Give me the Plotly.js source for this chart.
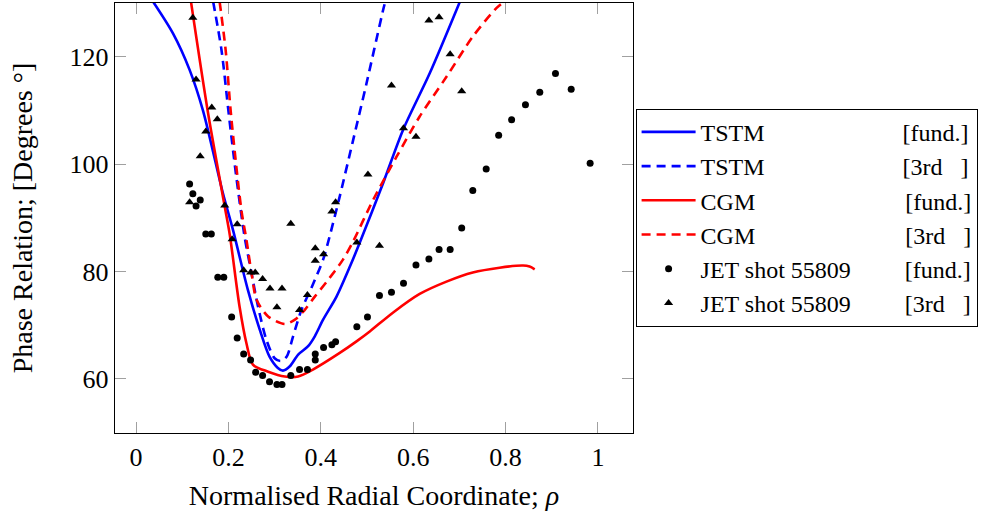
<!DOCTYPE html>
<html>
<head>
<meta charset="utf-8">
<script src="https://cdn.plot.ly/plotly-3.0.1.min.js"></script>
<style>html,body{margin:0;padding:0;background:#fff;}#chart{width:988px;height:512px;}</style>
</head>
<body>
<div id="chart"></div>
<script>
// ---- Data ----
const tstmFundRho = [0.037,0.080,0.116,0.145,0.188,0.210,0.242,0.268,0.289,0.307,0.318,0.333,0.351,0.372,0.387,0.405,0.434,0.463,0.484,0.535,0.578,0.636,0.701];
const tstmFundPhase = [130.3,124.4,117.6,110.0,94.6,87.7,76.6,69.1,64.1,62.0,61.5,62.3,64.5,66.0,67.9,71.0,75.3,80.9,85.3,96.5,106.4,117.0,130.3];

const tstm3rdRho = [0.167,0.185,0.201,0.217,0.235,0.250,0.264,0.282,0.300,0.313,0.326,0.340,0.358,0.381,0.405,0.419,0.441,0.470,0.499,0.535,0.540];
const tstm3rdPhase = [130.3,121.3,109.2,97.7,86.5,79.7,73.5,67.3,63.8,63.3,64.1,67.9,72.8,77.2,82.2,86.5,94.0,104.5,115.1,128.8,130.5];

const cgmFundRho = [0.119,0.156,0.192,0.203,0.224,0.239,0.253,0.286,0.322,0.351,0.383,0.441,0.478,0.506,0.556,0.614,0.672,0.729,0.787,0.838,0.852,0.863];
const cgmFundPhase = [130.3,109.5,92.1,86.8,73.5,66.6,62.6,61.3,60.4,60.4,61.7,64.8,67.0,68.8,72.3,75.8,78.1,79.8,80.7,81.1,80.9,80.4];

const cgm3rdRho = [0.181,0.194,0.206,0.228,0.239,0.250,0.261,0.286,0.322,0.344,0.365,0.387,0.412,0.448,0.470,0.513,0.564,0.614,0.672,0.729,0.780,0.800];
const cgm3rdPhase = [130.3,121.3,108.9,91.5,85.9,79.7,74.7,71.6,70.2,71.0,72.8,75.3,78.0,82.2,85.6,93.3,101.4,108.9,116.3,123.8,129.1,130.5];

const jetFundRho = [0.116,0.123,0.130,0.139,0.151,0.163,0.177,0.190,0.207,0.219,0.233,0.248,0.259,0.274,0.289,0.305,0.316,0.335,0.354,0.371,0.388,0.388,0.406,0.424,0.432,0.478,0.501,0.527,0.553,0.579,0.606,0.634,0.656,0.680,0.705,0.729,0.758,0.785,0.813,0.843,0.874,0.908,0.942,0.983];
const jetFundPhase = [96.3,94.5,92.2,93.3,87.0,87.0,78.9,78.9,71.5,67.6,64.6,63.5,61.2,60.6,59.4,58.9,58.9,60.6,61.7,61.7,63.5,64.6,65.8,66.3,66.9,69.7,71.5,75.5,76.1,77.8,81.2,82.3,84.1,84.1,88.1,95.1,99.1,105.4,108.3,111.1,113.4,116.9,114.0,100.2];

const jet3rdRho = [0.116,0.123,0.130,0.139,0.151,0.164,0.176,0.192,0.208,0.219,0.233,0.248,0.258,0.274,0.290,0.305,0.316,0.335,0.354,0.371,0.388,0.388,0.406,0.424,0.432,0.478,0.502,0.527,0.553,0.579,0.606,0.634,0.656,0.680,0.705];
const jet3rdPhase = [92.9,127.3,115.8,101.5,106.1,110.6,108.4,92.3,86.0,88.8,80.2,79.8,79.8,78.6,76.8,73.3,76.8,88.9,72.8,75.6,82.0,84.3,83.2,91.2,92.9,85.4,98.1,84.8,114.7,106.7,105.1,126.8,127.4,120.5,113.6];

const xTickVals = [0,0.2,0.4,0.6,0.8,1];
const xTickText = ['0','0.2','0.4','0.6','0.8','1'];
const yTickVals = [60,80,100,120];
const yTickText = ['60','80','100','120'];

const seriesNames = ['TSTM','TSTM','CGM','CGM','JET shot 55809','JET shot 55809'];
const harmonic = ['fund.','3rd','fund.','3rd','fund.','3rd'];

// ---- Legend label alignment (pad with non-breaking spaces) ----
const FONT = 'Liberation Serif';
const FS_TICK = 26, FS_TITLE = 28, FS_LEG = 24;
const cvs = document.createElement('canvas');
const ctx = cvs.getContext('2d');
ctx.font = FS_LEG + 'px "Liberation Serif"';
const w = s => ctx.measureText(s).width;
const NB = '\u00A0';
const nbW = w(NB) || FS_LEG*0.25;
const fundTag = '[fund.]';
function tag(h){
  if (h === 'fund.') return fundTag;
  const k = Math.max(1, Math.round((w(fundTag) - w('[3rd]')) / nbW));
  return '[3rd' + NB.repeat(k) + ']';
}
const natural = Math.max(...seriesNames.map((s,i)=> w(s) + nbW + w(tag(harmonic[i]))));
const target = Math.max(natural, 268);
const labels = seriesNames.map((s,i)=>{
  const t = tag(harmonic[i]);
  const k = Math.max(1, Math.round((target - w(s) - w(t)) / nbW));
  return s + NB.repeat(k) + t;
});

const traces = [
  {x: tstmFundRho, y: tstmFundPhase, mode:'lines', name: labels[0], line:{color:'#0000ff', width:2.6, shape:'spline', smoothing:0.8}},
  {x: tstm3rdRho, y: tstm3rdPhase, mode:'lines', name: labels[1], line:{color:'#0000ff', width:2.6, dash:'9px,6px', shape:'spline', smoothing:0.8}},
  {x: cgmFundRho, y: cgmFundPhase, mode:'lines', name: labels[2], line:{color:'#ff0000', width:2.6, shape:'spline', smoothing:0.8}},
  {x: cgm3rdRho, y: cgm3rdPhase, mode:'lines', name: labels[3], line:{color:'#ff0000', width:2.6, dash:'9px,6px', shape:'spline', smoothing:0.8}},
  {x: jetFundRho, y: jetFundPhase, mode:'markers', name: labels[4], marker:{symbol:'circle', color:'#000', size:7}},
  {x: jet3rdRho, y: jet3rdPhase, mode:'markers', name: labels[5], marker:{symbol:'triangle-up', color:'#000', size:8}}
];

const axisCommon = {
  showline:true, linecolor:'#000', linewidth:1.3, mirror:'ticks',
  ticks:'inside', ticklen:11, tickcolor:'#a0a0a0', tickwidth:1,
  showgrid:false, zeroline:false,
  tickfont:{family:FONT, size:FS_TICK, color:'#000'}
};

const layout = {
  width:988, height:512,
  margin:{l:115, r:355, t:3, b:79},
  paper_bgcolor:'#fff', plot_bgcolor:'#fff',
  font:{family:FONT, size:FS_TICK, color:'#000'},
  xaxis: Object.assign({}, axisCommon, {
    range:[-0.0455, 1.0758], tickvals:xTickVals, ticktext:xTickText,
    title:{text:'Normalised Radial Coordinate; <i>ρ</i>', font:{family:FONT, size:FS_TITLE, color:'#000'}, standoff:15}
  }),
  yaxis: Object.assign({}, axisCommon, {
    range:[49.86, 130.07], tickvals:yTickVals, ticktext:yTickText,
    title:{text:'Phase Relation; [Degrees °]', font:{family:FONT, size:FS_TITLE, color:'#000'}, standoff:28}
  }),
  showlegend:true,
  legend:{
    x:1.005, y:0.754, xanchor:'left', yanchor:'top',
    bordercolor:'#000', borderwidth:1, bgcolor:'#fff',
    font:{family:FONT, size:FS_LEG, color:'#000'},
    tracegroupgap:0, itemwidth:54
  }
};

Plotly.newPlot('chart', traces, layout, {staticPlot:true, displayModeBar:false});
</script>
</body>
</html>
